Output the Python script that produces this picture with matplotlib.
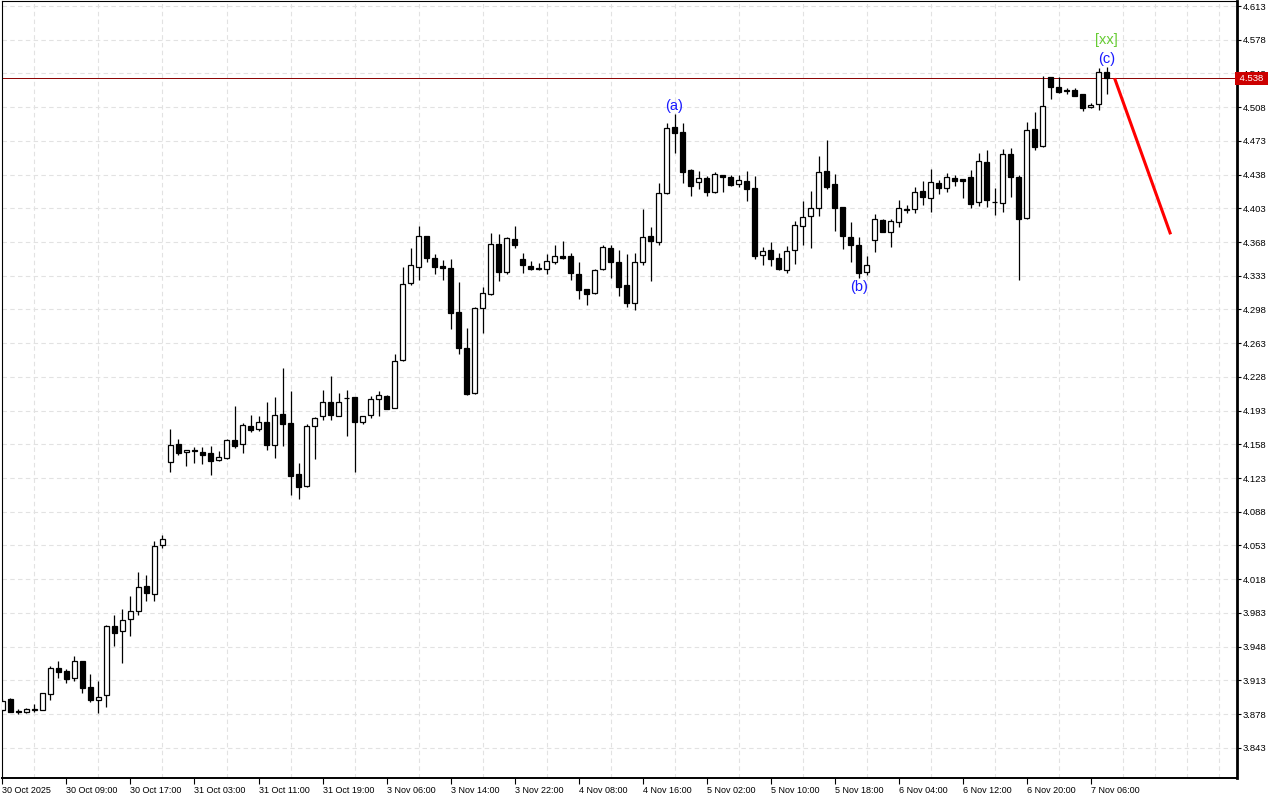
import numpy as np
import matplotlib.pyplot as plt

# hourly bars
opens = [3.8822, 3.8936, 3.8807, 3.8796, 3.8827, 3.8827, 3.8985, 3.9258, 3.9227, 3.9151,
         3.9331, 3.9058, 3.8923, 3.8975, 3.9694, 3.9639, 3.9763, 3.9846, 4.0109, 4.0031,
         4.0532, 4.1393, 4.1580, 4.1497, 4.1518, 4.1500, 4.1490, 4.1414, 4.1438, 4.1625,
         4.1580, 4.1767, 4.1736, 4.1809, 4.1570, 4.1892, 4.1801, 4.1269, 4.1144, 4.1767,
         4.1871, 4.2016, 4.1874, 4.2058, 4.2068, 4.1809, 4.1881, 4.2048, 4.2082, 4.1960,
         4.2455, 4.3251, 4.3424, 4.3742, 4.3511, 4.3431, 4.3410, 4.2950, 4.2580, 4.2110,
         4.2998, 4.3137, 4.3656, 4.3372, 4.3708, 4.3500, 4.3428, 4.3408, 4.3403, 4.3469,
         4.3532, 4.3532, 4.3345, 4.3189, 4.3148, 4.3397, 4.3615, 4.3472, 4.3231, 4.3044,
         4.3472, 4.3739, 4.3683, 4.4186, 4.4874, 4.4819, 4.4427, 4.4300, 4.4341, 4.4196,
         4.4376, 4.4352, 4.4279, 4.4310, 4.4237, 4.3542, 4.3594, 4.3514, 4.3393, 4.3594,
         4.3843, 4.3953, 4.4030, 4.4417, 4.4279, 4.4040, 4.3729, 4.3646, 4.3366, 4.3698,
         4.3908, 4.3781, 4.3885, 4.4019, 4.4019, 4.4206, 4.4142, 4.4292, 4.4237, 4.4347,
         4.4334, 4.4355, 4.4092, 4.4510, 4.4095, 4.4082, 4.4590, 4.4352, 4.3926, 4.4850,
         4.4673, 4.5390, 4.5286, 4.5260, 4.5258, 4.5213, 4.5078, 4.5109, 4.5445]
highs = [3.8936, 3.8947, 3.8829, 3.8838, 3.8881, 3.8998, 3.9279, 3.9331, 3.9248, 3.9383,
         3.9335, 3.9196, 3.9123, 3.9704, 3.9808, 3.9867, 4.0005, 4.0251, 4.0223, 4.0573,
         4.0639, 4.1739, 4.1635, 4.1526, 4.1549, 4.1549, 4.1563, 4.1511, 4.1635, 4.1978,
         4.1804, 4.1884, 4.1870, 4.2019, 4.2071, 4.2372, 4.2133, 4.1383, 4.1791, 4.1860,
         4.2141, 4.2289, 4.2113, 4.2147, 4.2071, 4.1874, 4.2082, 4.2134, 4.2092, 4.2517,
         4.3424, 4.3621, 4.3849, 4.3747, 4.3559, 4.3493, 4.3504, 4.3268, 4.2790, 4.3005,
         4.3213, 4.3773, 4.3766, 4.3729, 4.3846, 4.3563, 4.3480, 4.3459, 4.3552, 4.3649,
         4.3687, 4.3563, 4.3469, 4.3192, 4.3403, 4.3652, 4.3649, 4.3597, 4.3555, 4.3563,
         4.4023, 4.3839, 4.4296, 4.4912, 4.5009, 4.4912, 4.4433, 4.4417, 4.4362, 4.4404,
         4.4379, 4.4379, 4.4379, 4.4417, 4.4362, 4.3625, 4.3680, 4.3563, 4.3635, 4.3895,
         4.4103, 4.4206, 4.4570, 4.4736, 4.4383, 4.4043, 4.3885, 4.3732, 4.3532, 4.3968,
         4.3914, 4.3916, 4.4119, 4.4067, 4.4248, 4.4313, 4.4436, 4.4327, 4.4396, 4.4379,
         4.4336, 4.4424, 4.4604, 4.4632, 4.4241, 4.4645, 4.4656, 4.4376, 4.4926, 4.5026,
         4.5406, 4.5393, 4.5390, 4.5284, 4.5279, 4.5213, 4.5120, 4.5483, 4.5493]
lows = [3.8812, 3.8796, 3.8778, 3.8788, 3.8801, 3.8822, 3.8929, 3.9157, 3.9106, 3.9126,
        3.9002, 3.8908, 3.8788, 3.8856, 3.9486, 3.9313, 3.9593, 3.9808, 3.9954, 3.9954,
        4.0507, 4.1296, 4.1469, 4.1355, 4.1389, 4.1379, 4.1262, 4.1410, 4.1424, 4.1542,
        4.1493, 4.1705, 4.1718, 4.1521, 4.1441, 4.1566, 4.1054, 4.1009, 4.1135, 4.1424,
        4.1832, 4.1832, 4.1869, 4.1669, 4.1296, 4.1794, 4.1853, 4.1877, 4.1947, 4.1952,
        4.2448, 4.3237, 4.3286, 4.3476, 4.3345, 4.3286, 4.2780, 4.2518, 4.2092, 4.2102,
        4.2739, 4.3132, 4.3278, 4.3345, 4.3621, 4.3361, 4.3386, 4.3393, 4.3345, 4.3449,
        4.3500, 4.3289, 4.3091, 4.3029, 4.3142, 4.3391, 4.3309, 4.3123, 4.3008, 4.2977,
        4.3446, 4.3278, 4.3649, 4.4180, 4.4607, 4.4296, 4.4161, 4.4233, 4.4161, 4.4191,
        4.4202, 4.4264, 4.4248, 4.4109, 4.3504, 4.3444, 4.3434, 4.3386, 4.3358, 4.3455,
        4.3652, 4.3615, 4.3953, 4.4230, 4.3797, 4.3607, 4.3469, 4.3303, 4.3335, 4.3576,
        4.3785, 4.3633, 4.3831, 4.3978, 4.3984, 4.4064, 4.3995, 4.4175, 4.4202, 4.4261,
        4.4137, 4.4036, 4.4057, 4.4043, 4.3963, 4.3995, 4.4147, 4.3286, 4.3914, 4.4635,
        4.4671, 4.5168, 4.5230, 4.5213, 4.5199, 4.5040, 4.5076, 4.5050, 4.5213]
closes = [3.8916, 3.8801, 3.8801, 3.8836, 3.8833, 3.8996, 3.9258, 3.9220, 3.9141, 3.9328,
          3.9054, 3.8929, 3.8954, 3.9694, 3.9625, 3.9756, 3.9850, 4.0095, 4.0037, 4.0521,
          4.0594, 4.1573, 4.1493, 4.1521, 4.1511, 4.1472, 4.1410, 4.1445, 4.1625, 4.1566,
          4.1777, 4.1725, 4.1809, 4.1570, 4.1881, 4.1788, 4.1254, 4.1140, 4.1767, 4.1850,
          4.2016, 4.1881, 4.2016, 4.2056, 4.1809, 4.1871, 4.2048, 4.2092, 4.1950, 4.2445,
          4.3241, 4.3441, 4.3742, 4.3517, 4.3417, 4.3413, 4.2946, 4.2583, 4.2102, 4.2995,
          4.3148, 4.3656, 4.3366, 4.3718, 4.3652, 4.3438, 4.3400, 4.3405, 4.3480, 4.3532,
          4.3514, 4.3355, 4.3179, 4.3143, 4.3389, 4.3625, 4.3476, 4.3216, 4.3050, 4.3469,
          4.3729, 4.3694, 4.4186, 4.4860, 4.4808, 4.4410, 4.4264, 4.4341, 4.4196, 4.4383,
          4.4358, 4.4267, 4.4324, 4.4227, 4.3538, 4.3584, 4.3507, 4.3400, 4.3584, 4.3853,
          4.3936, 4.4030, 4.4404, 4.4254, 4.4030, 4.3739, 4.3646, 4.3355, 4.3438, 4.3916,
          4.3787, 4.3895, 4.4030, 4.4015, 4.4196, 4.4150, 4.4300, 4.4244, 4.4352, 4.4316,
          4.4316, 4.4078, 4.4521, 4.4119, 4.4093, 4.4593, 4.4352, 4.3916, 4.4840, 4.4663,
          4.5092, 4.5286, 4.5240, 4.5247, 4.5199, 4.5074, 4.5102, 4.5442, 4.5380]

time_labels = ['30 Oct 2025', '30 Oct 09:00', '30 Oct 17:00', '31 Oct 03:00', '31 Oct 11:00',
               '31 Oct 19:00', '3 Nov 06:00', '3 Nov 14:00', '3 Nov 22:00', '4 Nov 08:00',
               '4 Nov 16:00', '5 Nov 02:00', '5 Nov 10:00', '5 Nov 18:00', '6 Nov 04:00',
               '6 Nov 12:00', '6 Nov 20:00', '7 Nov 06:00']
price_ticks = [3.843, 3.878, 3.913, 3.948, 3.983, 4.018, 4.053, 4.088, 4.123, 4.158, 4.193,
               4.228, 4.263, 4.298, 4.333, 4.368, 4.403, 4.438, 4.473, 4.508, 4.543, 4.578, 4.613]
last_price = 4.538

# wave marks: (text, bar, above/below)
wave_labels = [('(a)', 84, 'high'), ('(b)', 107, 'low'), ('(c)', 138, 'high')]
# forecast arrow
forecast_x = [139, 146]
forecast_y = [4.538, 4.376]

o = np.array(opens); h = np.array(highs); l = np.array(lows); c = np.array(closes)
h = np.maximum(h, np.maximum(o, c))
l = np.minimum(l, np.minimum(o, c))
x = np.arange(len(o))

plt.rcParams['font.family'] = ['Liberation Sans', 'DejaVu Sans']
fig = plt.figure(figsize=(12.8, 8), dpi=100)
ax = fig.add_axes([2/1280, 1 - 778/800, 1235/1280, 777/800])

ax.vlines(x, l, h, color='black', lw=0.9, zorder=2)
up = c >= o
ax.bar(x[up], c[up] - o[up], bottom=o[up], width=0.6, color='white',
       edgecolor='black', linewidth=0.9, zorder=3)
ax.bar(x[~up], o[~up] - c[~up], bottom=c[~up], width=0.6, color='black',
       edgecolor='black', linewidth=0.9, zorder=3)

ax.axhline(last_price, color='#8b0000', lw=0.7, zorder=1)
ax.plot(forecast_x, forecast_y, color='#ff0000', lw=2.2, solid_capstyle='butt', zorder=4)

for txt, i, side in wave_labels:
    if side == 'high':
        ax.annotate(txt, xy=(i, h[i]), xytext=(0, 1), textcoords='offset points',
                    ha='center', va='bottom', color='#1a1aff', fontsize=10.5)
    else:
        ax.annotate(txt, xy=(i, l[i]), xytext=(0, -1.5), textcoords='offset points',
                    ha='center', va='top', color='#1a1aff', fontsize=10.5)
ax.annotate('[xx]', xy=(138, h[138]), xytext=(0, 15), textcoords='offset points',
            ha='center', va='bottom', color='#66cc33', fontsize=10.5)

ax.set_xlim(-0.06, 154.3)
ax.set_ylim(3.8116, 4.6182)

ax.set_xticks(np.arange(0, len(time_labels) * 8, 8))
ax.set_xticklabels(time_labels, ha='left', fontsize=6.5)
ax.set_xticks(np.arange(0, 156, 4), minor=True)
ax.tick_params(axis='x', which='major', length=4, width=0.8, pad=2)
ax.tick_params(axis='x', which='minor', length=0)

ax.yaxis.tick_right()
ax.set_yticks(price_ticks)
ax.set_yticklabels(['%.3f' % v for v in price_ticks], fontsize=6.8)
ax.tick_params(axis='y', length=3, width=0.8, pad=1)

ax.grid(True, axis='y', which='major', color='#e2e2e2', ls=(0, (4, 3)), lw=0.8)
ax.grid(True, axis='x', which='minor', color='#e2e2e2', ls=(0, (4, 3)), lw=0.8)
ax.set_axisbelow(True)

ax.spines['right'].set_linewidth(2.0)
ax.spines['bottom'].set_linewidth(1.4)
ax.spines['top'].set_linewidth(0.8)
ax.spines['left'].set_linewidth(0.8)

ax.text(1.0, last_price, ' %.3f ' % last_price, transform=ax.get_yaxis_transform(),
        ha='left', va='center', color='white', fontsize=6.8, zorder=10, clip_on=False,
        bbox=dict(boxstyle='square,pad=0.2', fc='#cc0000', ec='none'))

fig.savefig('out.png', dpi=100)
